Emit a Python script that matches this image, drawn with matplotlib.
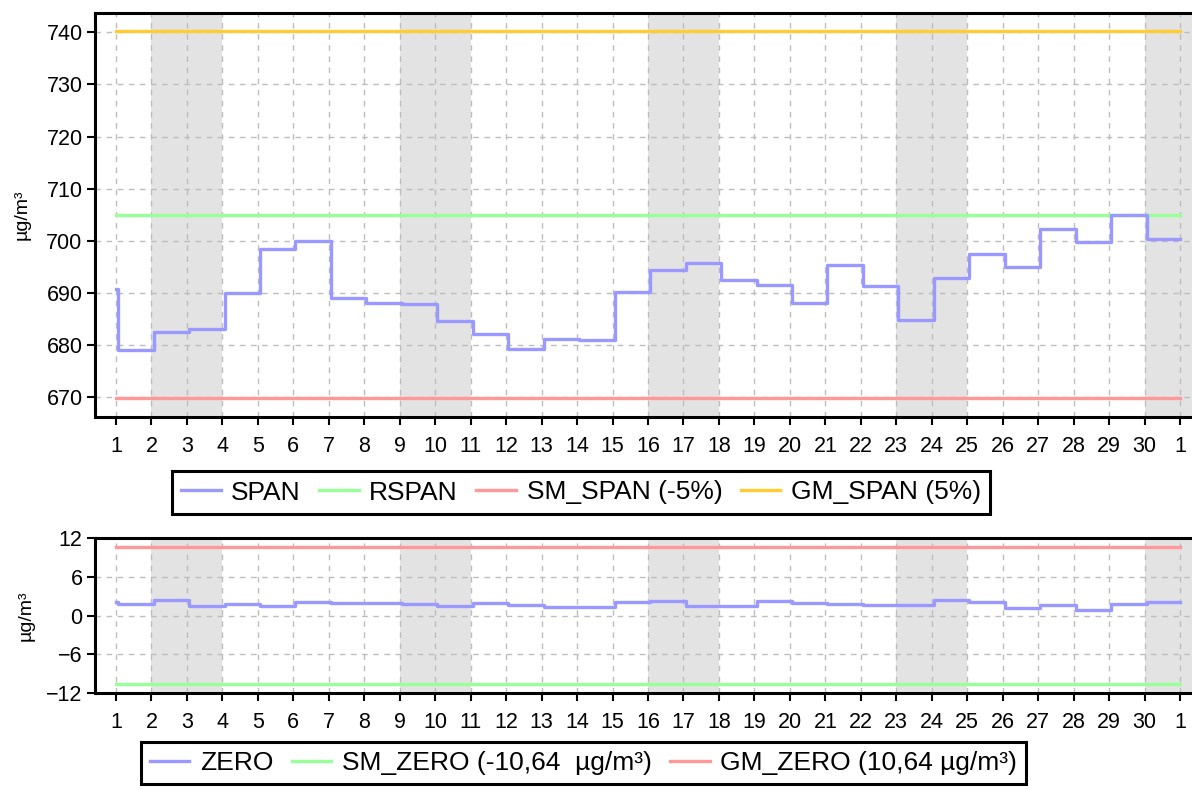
import numpy as np
import matplotlib
matplotlib.use("Agg")
import matplotlib.pyplot as plt

plt.rcParams['font.family'] = ['Liberation Sans', 'DejaVu Sans']

# 日ごとの値 (1日〜30日, 翌月1日まで)
days = np.arange(1, 31)
tick_labels = [str(d) for d in range(1, 31)] + ['1']

span_start = 690.8
span_vals = [679.1, 682.6, 683.0, 689.9, 698.4, 700.0, 689.0, 688.1, 687.9, 684.6,
             682.2, 679.3, 681.2, 681.0, 690.1, 694.4, 695.8, 692.4, 691.5, 688.0,
             695.3, 691.3, 684.9, 692.9, 697.4, 694.9, 702.3, 699.8, 704.9, 700.3]
rspan = 705.0
sm_span = 669.75
gm_span = 740.25

zero_start = 2.1
zero_vals = [1.8, 2.4, 1.5, 1.8, 1.5, 2.1, 1.95, 1.9, 1.75, 1.4,
             2.0, 1.65, 1.35, 1.3, 2.1, 2.2, 1.45, 1.5, 2.25, 2.0,
             1.85, 1.55, 1.55, 2.45, 2.05, 1.15, 1.65, 0.9, 1.8, 2.1]
sm_zero = -10.64
gm_zero = 10.64

weekend_starts = [2, 9, 16, 23, 30]

C_BLUE = '#9999ff'
C_GREEN = '#99ff99'
C_RED = '#ff9999'
C_YELLOW = '#ffcc33'

fig = plt.figure(figsize=(11.92, 7.90), dpi=100)
W, H = 1192.0, 790.0
ax1 = fig.add_axes([95 / W, 1 - 417 / H, 1 - 95 / W, (417 - 13) / H])
ax2 = fig.add_axes([95 / W, 1 - 693 / H, 1 - 95 / W, (693 - 538) / H])

# 測定時刻は毎日の始まり少し後
shift = 0.06
x_step = np.concatenate([[1], days + shift, [31]])
span_y = [span_start] + span_vals + [span_vals[-1]]
zero_y = [zero_start] + zero_vals + [zero_vals[-1]]
x_line = [1, 31]


def style_axes(ax, yticks, ylim):
    ax.set_xlim(1 - 21 / 35.47, 31 + 12 / 35.47)
    ax.set_ylim(*ylim)
    ax.set_yticks(yticks)
    ax.set_xticks(np.arange(1, 32))
    ax.set_xticklabels(tick_labels)
    for s in weekend_starts:
        ax.axvspan(s, s + 2, color='#e3e3e3', zorder=0, lw=0)
    ax.grid(True, color='#bdbdbd', linestyle=(0, (4, 4)), linewidth=1)
    ax.set_axisbelow(True)
    for name in ['left', 'bottom', 'top']:
        ax.spines[name].set_linewidth(2.2)
        ax.spines[name].set_color('black')
    ax.spines['right'].set_visible(False)
    ax.tick_params(axis='both', direction='out', length=6, width=1.5, labelsize=15.5)
    ax.tick_params(axis='x', pad=8)
    ax.tick_params(axis='y', pad=3)
    ax.set_ylabel('µg/m³', fontsize=14)


style_axes(ax1, [670, 680, 690, 700, 710, 720, 730, 740], (666.2, 743.7))
ax1.plot(x_step, span_y, drawstyle='steps-post', color=C_BLUE, lw=2.4, label='SPAN', zorder=3)
ax1.plot(x_line, [rspan, rspan], color=C_GREEN, lw=2.4, label='RSPAN')
ax1.plot(x_line, [sm_span, sm_span], color=C_RED, lw=2.4, label='SM_SPAN (-5%)')
ax1.plot(x_line, [gm_span, gm_span], color=C_YELLOW, lw=2.4, label='GM_SPAN (5%)')
ax1.yaxis.set_label_coords(-64 / 1097, 0.5)

style_axes(ax2, [-12, -6, 0, 6, 12], (-12, 12))
ax2.plot(x_step, zero_y, drawstyle='steps-post', color=C_BLUE, lw=2.4, label='ZERO', zorder=3)
ax2.plot(x_line, [sm_zero, sm_zero], color=C_GREEN, lw=2.4, label='SM_ZERO (-10,64  µg/m³)')
ax2.plot(x_line, [gm_zero, gm_zero], color=C_RED, lw=2.4, label='GM_ZERO (10,64 µg/m³)')
ax2.yaxis.set_label_coords(-60 / 1097, 0.5)

leg_kw = dict(ncol=4, fontsize=19, frameon=True, fancybox=False, handlelength=1.5,
              handletextpad=0.4, columnspacing=0.7, borderpad=0.35, borderaxespad=0)
l1 = fig.legend(*ax1.get_legend_handles_labels(), loc='center',
                bbox_to_anchor=(581 / W, 1 - 492.5 / H), **leg_kw)
l2 = fig.legend(*ax2.get_legend_handles_labels(), loc='upper center',
                bbox_to_anchor=(583.5 / W, 1 - 742 / H), **leg_kw)
for lg in (l1, l2):
    fr = lg.get_frame()
    fr.set_edgecolor('black')
    fr.set_linewidth(2.2)
    fr.set_alpha(1)

fig.savefig('out.png', dpi=100)
